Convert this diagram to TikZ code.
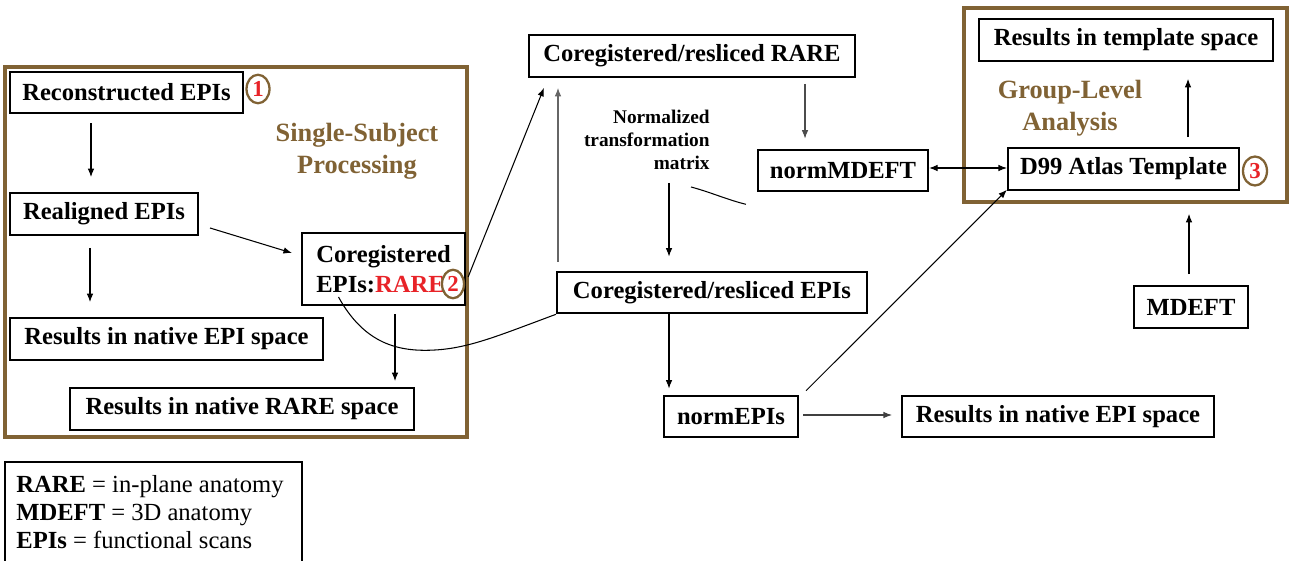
\documentclass[tikz,border=0pt]{standalone}
\usepackage{fontspec}
\setmainfont{Liberation Serif}
\usetikzlibrary{arrows.meta,shapes.geometric}
\definecolor{brn}{RGB}{128,98,52}
\definecolor{rd}{RGB}{232,35,40}
\begin{document}
\begin{tikzpicture}[x=0.02cm,y=-0.02cm,
  box/.style={draw, line width=1.2pt, inner sep=0pt, minimum height=0.83cm, font=\fontsize{14}{17}\selectfont\bfseries},
  arr/.style={-{Latex[length=0.17cm,width=0.13cm]}, line width=0.6pt},
  dbl/.style={{Latex[length=0.17cm,width=0.13cm]}-{Latex[length=0.17cm,width=0.13cm]}, line width=0.6pt},
  plain/.style={line width=0.6pt},
  frame/.style={draw=brn, line width=1.8pt},
  title/.style={text=brn, font=\fontsize{15}{18}\selectfont\bfseries, align=center},
  num/.style={ellipse, draw=brn, line width=1.3pt, fill=white, inner sep=0pt, text=rd, font=\fontsize{13}{13}\selectfont\bfseries},
  leg/.style={anchor=base west, inner sep=0pt, font=\fontsize{14}{17}\selectfont}
]
\useasboundingbox (0,0) rectangle (1289,561);

% frames
\draw[frame] (5,67) rectangle (467,437);
\draw[frame] (964,8) rectangle (1287,202);

% titles
\node[title] (tss) at (357,151) {Single-Subject\\Processing};
\node[title] (tgl) at (1070,108) {Group-Level\\Analysis};

% boxes
\node[box, minimum width=4.66cm] (recon) at (126.5,92.5) {Reconstructed EPIs};
\node[box, minimum width=3.76cm] (realigned) at (104,214) {Realigned EPIs};
\node[box, minimum width=6.26cm] (resEPIa) at (166.5,339) {Results in native EPI space};
\node[box, minimum width=3.26cm, minimum height=1.44cm, align=left] (coreg) at (383.5,269) {Coregistered\\EPIs:\textcolor{rd}{RARE}};
\node[box, minimum width=6.88cm] (resRARE) at (242,409) {Results in native RARE space};
\node[box, minimum width=6.52cm] (crRARE) at (692,56) {Coregistered/resliced RARE};
\node[box, minimum width=3.4cm] (normMDEFT) at (843,170.5) {normMDEFT};
\node[box, minimum width=6.2cm] (crEPI) at (712,292.5) {Coregistered/resliced EPIs};
\node[box, minimum width=2.68cm] (normEPIs) at (731,416.5) {normEPIs};
\node[box, minimum width=6.24cm] (resEPIb) at (1058,416.5) {Results in native EPI space};
\node[box, minimum width=4.62cm] (d99) at (1123.5,169) {D99 Atlas Template};
\node[box, minimum width=5.88cm] (resTpl) at (1126,40) {Results in template space};
\node[box, minimum width=2.28cm] (mdeft) at (1191,307) {MDEFT};

% matrix label
\node[anchor=east, align=right, inner sep=0pt, font=\fontsize{11}{13}\selectfont\bfseries] (mtx) at (710,140) {Normalized\\transformation\\matrix};

% numbered circles
\node[num, minimum width=0.46cm, minimum height=0.57cm] (c1) at (258,89) {1};
\node[num, minimum width=0.44cm, minimum height=0.57cm] (c2) at (453,284) {2};
\node[num, minimum width=0.48cm, minimum height=0.58cm] (c3) at (1255,171) {3};

% arrows
\draw[arr, shorten <=0.18cm, shorten >=0.3cm] (recon.south -| 91,0) -- (realigned.north -| 91,0);
\draw[arr, shorten <=0.24cm, shorten >=0.3cm] (realigned.south -| 90,0) -- (resEPIa.north -| 90,0);
\draw[arr] ([shift={(11,14)}]realigned.east) -- ([shift={(-9,-16)}]coreg.west);
\draw[arr, shorten <=0.16cm, shorten >=0.12cm] (coreg.south -| 395,0) -- (resRARE.north -| 395,0);
\draw[arr] ([shift={(3,-7)}]c2.east) -- ([shift={(16,10)}]crRARE.south west);
\draw[arr, black!60, shorten <=0.18cm, shorten >=0.2cm] (crEPI.north -| 558,0) -- (crRARE.south -| 558,0);
\draw[arr, black!70, shorten <=0.12cm, shorten >=0.2cm] (crRARE.south -| 805,0) -- (normMDEFT.north -| 805,0);
\draw[arr, shorten <=0.26cm, shorten >=0.28cm] (mtx.south -| 669,0) -- (crEPI.north -| 669,0);
\draw[arr, shorten >=0.12cm] (crEPI.south -| 669,0) -- (normEPIs.north -| 669,0);
\draw[arr, black!75, shorten <=0.08cm, shorten >=0.18cm] (normEPIs.east |- 0,415) -- (resEPIb.west |- 0,415);
\draw[arr] ([shift={(7,-4)}]normEPIs.north east) -- ([shift={(0,-1)}]d99.south west);
\draw[dbl] (normMDEFT.east |- 0,168) -- (d99.west |- 0,168);
\draw[arr, shorten <=0.2cm, shorten >=0.34cm] (d99.north -| 1188,0) -- (resTpl.south -| 1188,0);
\draw[arr, shorten <=0.22cm, shorten >=0.46cm] (mdeft.north -| 1189,0) -- (d99.south -| 1189,0);

% curves
\draw[plain] ([shift={(-45,28)}]coreg.center) .. controls (365,345) and (400,352) .. (435,350) .. controls (470,348) and (500,335) .. (crEPI.south west);
\draw[plain] ([shift={(-19,17)}]mtx.south east) .. controls (710,192) and (728,200) .. ([shift={(-11,12)}]normMDEFT.south west);

% legend
\draw[line width=1.2pt] (5,462) rectangle (302,620);
\node[leg] (l1) at (16,492) {\textbf{RARE} = in-plane anatomy};
\node[leg] (l2) at (16,520) {\textbf{MDEFT} = 3D anatomy};
\node[leg] (l3) at (16,548) {\textbf{EPIs} = functional scans};
\end{tikzpicture}
\end{document}
